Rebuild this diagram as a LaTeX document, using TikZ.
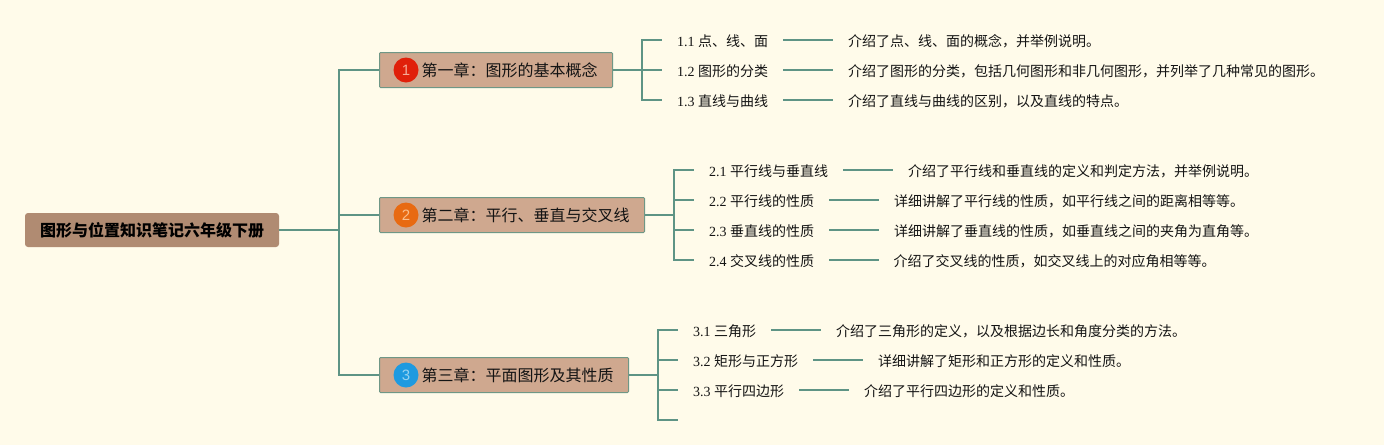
\documentclass[tikz,border=0pt]{standalone}
\usepackage{fontspec}
\setmainfont{Liberation Serif}
\newfontfamily\cjk{Noto Sans CJK SC}
\newfontfamily\numf{Liberation Sans}
\newcommand{\mix}[2]{{\rmfamily #1 }{\cjk #2}}
\definecolor{bgc}{HTML}{FFFBEA}
\definecolor{linec}{HTML}{5E9485}
\definecolor{rootc}{HTML}{B08B72}
\definecolor{chapc}{HTML}{CFA88F}
\definecolor{inkc}{HTML}{141414}
\tikzset{
  link/.style={draw=linec,line width=2.2pt},
  rootbox/.style={fill=rootc,rounded corners=3pt,minimum width=254pt,minimum height=34pt,inner sep=0pt,font=\cjk\fontsize{16}{16}\selectfont\bfseries,text=black,text height=14.6pt,text depth=2pt},
  chapbox/.style={fill=chapc,draw=linec!85!chapc,line width=1pt,rounded corners=1pt,anchor=west,minimum height=35pt,inner xsep=15pt,inner ysep=0pt,font=\cjk\fontsize{16}{16}\selectfont,text=inkc,text height=15pt,text depth=1.5pt},
  badge/.style={circle,inner sep=0pt,minimum size=25pt,font=\numf\fontsize{15}{15}\selectfont},
  leafbox/.style={anchor=west,inner xsep=15pt,inner ysep=0pt,font=\fontsize{14}{14}\selectfont,text=inkc,text height=14.6pt,text depth=2pt},
}
\begin{document}
\begin{tikzpicture}[x=1pt,y=-1pt]
\useasboundingbox (0,0) rectangle (1384,445);
\fill[bgc] (0,0) rectangle (1384,445);

\node[rootbox] (root) at (152,230) {图形与位置知识笔记六年级下册};
\coordinate (trunk) at (339,230);

\node[chapbox] (c1) at (379,70) {\hspace{27pt}第一章：图形的基本概念};
\node[chapbox] (c2) at (379,215) {\hspace{27pt}第二章：平行、垂直与交叉线};
\node[chapbox] (c3) at (379,375) {\hspace{27pt}第三章：平面图形及其性质};
\node[badge,fill={rgb,255:red,224;green,32;blue,10},text={rgb,255:red,245;green,170;blue,150}] (b1) at (406,70) {1};
\node[badge,fill={rgb,255:red,232;green,106;blue,18},text={rgb,255:red,250;green,190;blue,140}] (b2) at (406,215) {2};
\node[badge,fill={rgb,255:red,30;green,154;blue,224},text={rgb,255:red,150;green,210;blue,240}] (b3) at (406,375) {3};

\draw[link] (root.east) -- (trunk);
\draw[link] (trunk) |- (c1.west);
\draw[link] (trunk) |- (c2.west);
\draw[link] (trunk) |- (c3.west);

% chapter 1
\coordinate (j1) at (642,70);
\node[leafbox] (l11) at (662,40) {\mix{1.1}{点、线、面}};
\node[leafbox] (l12) at (662,70) {\mix{1.2}{图形的分类}};
\node[leafbox] (l13) at (662,100) {\mix{1.3}{直线与曲线}};
\node[leafbox] (d11) at (833,40) {\cjk 介绍了点、线、面的概念，并举例说明。};
\node[leafbox] (d12) at (833,70) {\cjk 介绍了图形的分类，包括几何图形和非几何图形，并列举了几种常见的图形。};
\node[leafbox] (d13) at (833,100) {\cjk 介绍了直线与曲线的区别，以及直线的特点。};
\draw[link] (c1.east) -- (j1);
\foreach \n in {l11,l12,l13} \draw[link] (j1) |- (\n.west);
\draw[link] (l11.east) -- (d11.west);
\draw[link] (l12.east) -- (d12.west);
\draw[link] (l13.east) -- (d13.west);

% chapter 2
\coordinate (j2) at (674,215);
\node[leafbox] (l21) at (694,170) {\mix{2.1}{平行线与垂直线}};
\node[leafbox] (l22) at (694,200) {\mix{2.2}{平行线的性质}};
\node[leafbox] (l23) at (694,230) {\mix{2.3}{垂直线的性质}};
\node[leafbox] (l24) at (694,260) {\mix{2.4}{交叉线的性质}};
\node[leafbox] (d21) at (893,170) {\cjk 介绍了平行线和垂直线的定义和判定方法，并举例说明。};
\node[leafbox] (d22) at (879,200) {\cjk 详细讲解了平行线的性质，如平行线之间的距离相等等。};
\node[leafbox] (d23) at (879,230) {\cjk 详细讲解了垂直线的性质，如垂直线之间的夹角为直角等。};
\node[leafbox] (d24) at (878.5,260) {\cjk 介绍了交叉线的性质，如交叉线上的对应角相等等。};
\draw[link] (c2.east) -- (j2);
\foreach \n in {l21,l22,l23,l24} \draw[link] (j2) |- (\n.west);
\draw[link] (l21.east) -- (d21.west);
\draw[link] (l22.east) -- (d22.west);
\draw[link] (l23.east) -- (d23.west);
\draw[link] (l24.east) -- (d24.west);

% chapter 3
\coordinate (j3) at (658,375);
\node[leafbox] (l31) at (678,330) {\mix{3.1}{三角形}};
\node[leafbox] (l32) at (678,360) {\mix{3.2}{矩形与正方形}};
\node[leafbox] (l33) at (678,390) {\mix{3.3}{平行四边形}};
\coordinate (l34) at (678,420);
\node[leafbox] (d31) at (821,330) {\cjk 介绍了三角形的定义，以及根据边长和角度分类的方法。};
\node[leafbox] (d32) at (863,360) {\cjk 详细讲解了矩形和正方形的定义和性质。};
\node[leafbox] (d33) at (849,390) {\cjk 介绍了平行四边形的定义和性质。};
\draw[link] (c3.east) -- (j3);
\foreach \n in {l31,l32,l33} \draw[link] (j3) |- (\n.west);
\draw[link] (j3) |- (l34);
\draw[link] (l31.east) -- (d31.west);
\draw[link] (l32.east) -- (d32.west);
\draw[link] (l33.east) -- (d33.west);
\end{tikzpicture}
\end{document}
